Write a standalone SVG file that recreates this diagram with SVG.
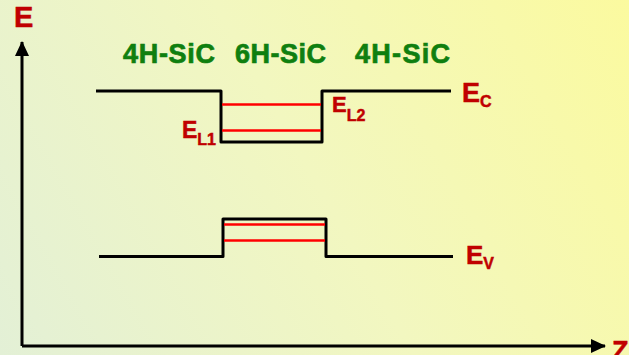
<svg xmlns="http://www.w3.org/2000/svg" width="629" height="355" viewBox="0 0 629 355">
<defs>
<linearGradient id="bg" x1="0" y1="355" x2="629" y2="0" gradientUnits="userSpaceOnUse">
<stop offset="0" stop-color="#e3f0d6"/>
<stop offset="0.5" stop-color="#f2f7c0"/>
<stop offset="1" stop-color="#fbfa9f"/>
</linearGradient>
<marker id="arr" markerWidth="16" markerHeight="16" refX="14" refY="8" orient="auto" markerUnits="userSpaceOnUse">
<path d="M0,1 L15,8 L0,15 Z" fill="#000"/>
</marker>
<style>
.band{fill:none;stroke:#000;stroke-width:3;stroke-linejoin:round}
.lvl{stroke:#ff0000;stroke-width:2.5}
.axis{stroke:#000;stroke-width:3;fill:none}
.lbl{font-family:"Liberation Sans",Arial,sans-serif;font-weight:bold;fill:#c00000;stroke:#c00000;stroke-width:0.5}
.mat{font-family:"Liberation Sans",Arial,sans-serif;font-weight:bold;fill:#0f7f0f;stroke:#0f7f0f;stroke-width:0.7;font-size:27px}
</style>
</defs>
<rect width="629" height="355" fill="url(#bg)"/>
<g id="connectors">
<path class="axis" d="M22,346 L22,42" marker-end="url(#arr)"/>
<path class="axis" d="M22,346 L605,346" marker-end="url(#arr)"/>
</g>
<g id="axis-labels">
<text class="lbl" x="14" y="27" font-size="29">E</text>
<text class="lbl" x="612" y="360" font-size="27">Z</text>
</g>
<g id="materials">
<text class="mat" x="123" y="63" textLength="92" lengthAdjust="spacing">4H-SiC</text>
<text class="mat" x="235" y="63" textLength="91" lengthAdjust="spacing">6H-SiC</text>
<text class="mat" x="355" y="63" textLength="95" lengthAdjust="spacing">4H-SiC</text>
</g>
<g id="conduction-band">
<path class="band" d="M96,91 L221,91 L221,142 L322,142 L322,91 L451,91"/>
<line class="lvl" x1="222" y1="104.5" x2="321" y2="104.5"/>
<line class="lvl" x1="222" y1="130.5" x2="321" y2="130.5"/>
<text class="lbl" x="462" y="102" font-size="27">E<tspan font-size="16" dy="5">C</tspan></text>
<text class="lbl" x="332" y="112" font-size="22">E<tspan font-size="16" dy="9">L2</tspan></text>
<text class="lbl" x="182" y="138" font-size="23">E<tspan font-size="16" dy="7">L1</tspan></text>
</g>
<g id="valence-band">
<path class="band" d="M99,256.5 L223,256.5 L223,219 L326,219 L326,256.5 L453,256.5"/>
<line class="lvl" x1="224" y1="224.5" x2="325" y2="224.5"/>
<line class="lvl" x1="224" y1="240.5" x2="325" y2="240.5"/>
<text class="lbl" x="466" y="264" font-size="26">E<tspan font-size="16" dy="5">V</tspan></text>
</g>
</svg>
